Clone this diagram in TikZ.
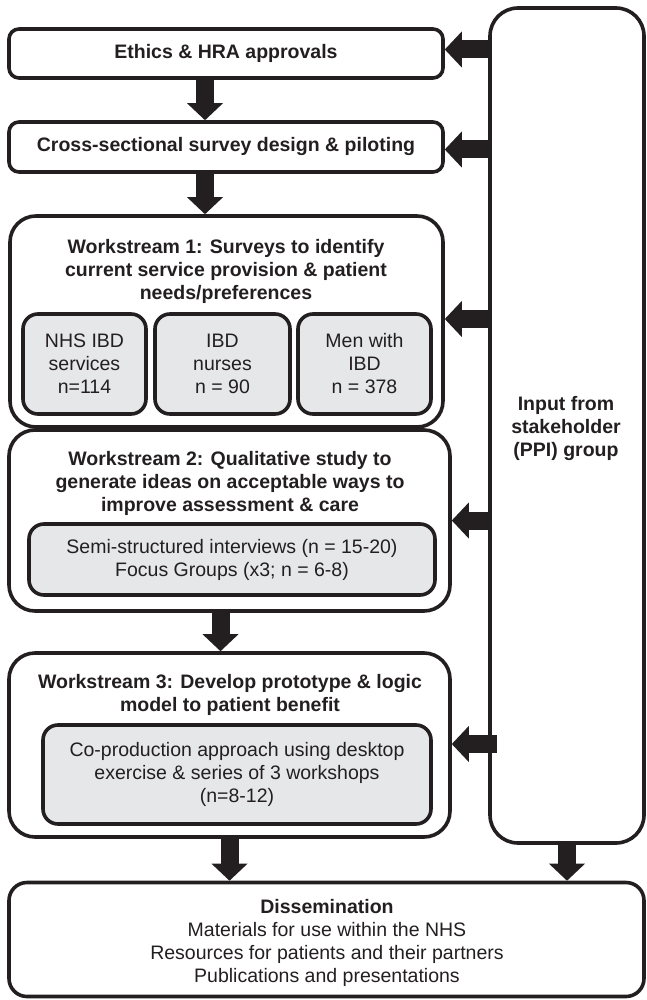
\documentclass[tikz,border=0pt]{standalone}
\usepackage{fontspec}
\setmainfont{Liberation Sans}
\usetikzlibrary{arrows.meta}
\definecolor{boxgray}{RGB}{230,231,232}
\definecolor{ink}{RGB}{35,31,32}
\tikzset{
  txt/.style={font=\fontsize{19.5}{23}\selectfont, align=center, text=ink, inner sep=0pt},
  btxt/.style={font=\fontsize{19.5}{23}\selectfont\bfseries, align=center, text=ink, inner sep=0pt},
  mainbox/.style={draw=ink, line width=3.6pt, inner sep=0pt, rounded corners=10pt},
  subbox/.style={draw=ink, fill=boxgray, line width=3.6pt, inner sep=0pt, rounded corners=15pt, txt},
  barrow/.style={draw=ink, line width=18pt, line cap=butt, -{Triangle[width=36pt,length=17pt,line width=0pt]}}
}
\begin{document}
\begin{tikzpicture}[x=1pt,y=-1pt]
\useasboundingbox (0,0) rectangle (646,1000);
% main flow boxes
\node[mainbox, btxt, minimum width=434pt, minimum height=49pt] (ethics) at (226,53.5) {Ethics \& HRA approvals};
\node[mainbox, btxt, minimum width=434pt, minimum height=50pt] (cross) at (226,147) {Cross-sectional survey design \& piloting};
% workstream 1
\node[mainbox, rounded corners=26pt, minimum width=433pt, minimum height=211pt] (ws1) at (226.5,321.5) {};
\node[btxt] (ws1t) at (226,271) {Workstream 1: Surveys to identify\\current service provision \& patient\\needs/preferences};
\node[subbox, minimum width=123pt, minimum height=100pt] (nhs) at (84.5,364) {NHS IBD\\services\\n=114};
\node[subbox, minimum width=135pt, minimum height=100pt] (nurses) at (222.5,364) {IBD\\nurses\\n = 90};
\node[subbox, minimum width=133pt, minimum height=100pt] (men) at (364.5,364) {Men with\\IBD\\n = 378};
% workstream 2
\node[mainbox, rounded corners=26pt, minimum width=441pt, minimum height=181pt] (ws2) at (229.5,520.5) {};
\node[btxt] (ws2t) at (230,483) {Workstream 2: Qualitative study to\\generate ideas on acceptable ways to\\improve assessment \& care};
\node[subbox, minimum width=406pt, minimum height=71pt] (ws2in) at (232,559.5) {Semi-structured interviews (n = 15-20)\\Focus Groups (x3; n = 6-8)};
% workstream 3
\node[mainbox, rounded corners=26pt, minimum width=441pt, minimum height=184pt] (ws3) at (229.5,745) {};
\node[btxt] (ws3t) at (230,695) {Workstream 3: Develop prototype \& logic\\model to patient benefit};
\node[subbox, minimum width=388pt, minimum height=99pt] (ws3in) at (237,774.5) {Co-production approach using desktop\\exercise \& series of 3 workshops\\(n=8-12)};
% stakeholder column
\node[mainbox, rounded corners=28pt, minimum width=154pt, minimum height=835pt] (ppi) at (567,425.5) {};
\node[btxt] (ppit) at (566,428) {Input from\\stakeholder\\(PPI) group};
% dissemination
\node[mainbox, rounded corners=18pt, minimum width=635pt, minimum height=114pt] (diss) at (326.5,939.5) {};
\node[txt] (disst) at (327,943) {\textbf{Dissemination}\\Materials for use within the NHS\\Resources for patients and their partners\\Publications and presentations};
% vertical arrows
\draw[barrow] ([xshift=-21pt]ethics.south) -- ([xshift=-21pt]ethics.south |- cross.north);
\draw[barrow] ([xshift=-21pt]cross.south) -- ([xshift=-21pt]cross.south |- ws1.north);
\draw[barrow] ([xshift=-9pt]ws2.south) -- ([xshift=-9pt]ws2.south |- ws3.north);
\draw[barrow] (ws3.south) -- (ws3.south |- diss.north);
\draw[barrow] ([yshift=4pt]ppi.south) -- (ppi.south |- diss.north);
% horizontal arrows from stakeholder group
\draw[barrow] ([yshift=4pt]ppi.west |- ethics.east) -- ([yshift=4pt]ethics.east);
\draw[barrow] ([yshift=-2.5pt]ppi.west |- cross.east) -- ([yshift=-2.5pt]cross.east);
\draw[barrow] ([yshift=2.5pt]ppi.west |- ws1.east) -- ([yshift=2.5pt]ws1.east);
\draw[barrow] (ppi.west |- ws2.east) -- (ws2.east);
\draw[barrow] ([yshift=1pt,xshift=9pt]ppi.west |- ws3.east) -- ([yshift=1pt]ws3.east);
\end{tikzpicture}
\end{document}
